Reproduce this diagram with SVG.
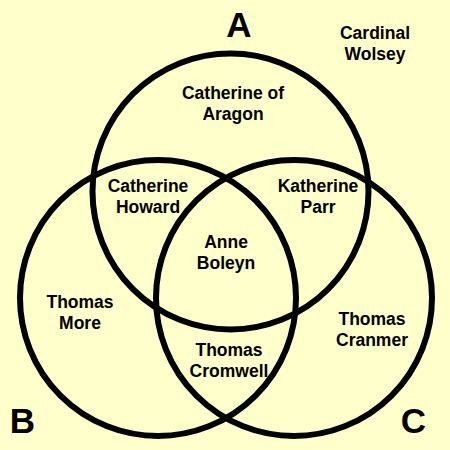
<svg xmlns="http://www.w3.org/2000/svg" width="450" height="450" viewBox="0 0 450 450">
<style>
.c{fill:none;stroke:#000;stroke-width:6}
text{font-family:"Liberation Sans",Arial,sans-serif;font-weight:bold;fill:#000;text-anchor:middle}
.t{font-size:17.5px}
.big{font-size:35px}
</style>
<rect width="450" height="450" fill="#FFFFCC"/>
<g id="circles">
<circle id="circleA" class="c" cx="230.5" cy="191.5" r="138"/>
<circle id="circleB" class="c" cx="158" cy="298" r="138"/>
<circle id="circleC" class="c" cx="294" cy="298" r="138"/>
</g>
<g id="labelA"><text class="big" x="239" y="37">A</text></g>
<g id="labelB"><text class="big" x="22.5" y="433">B</text></g>
<g id="labelC"><text class="big" x="413.5" y="433">C</text></g>
<g id="wolsey"><text class="t" x="375" y="39">Cardinal</text><text class="t" x="375" y="60">Wolsey</text></g>
<g id="aragon"><text class="t" x="233" y="99">Catherine of</text><text class="t" x="233" y="120">Aragon</text></g>
<g id="howard"><text class="t" x="148" y="192">Catherine</text><text class="t" x="148" y="213">Howard</text></g>
<g id="parr"><text class="t" x="318" y="192">Katherine</text><text class="t" x="318" y="213">Parr</text></g>
<g id="boleyn"><text class="t" x="226" y="248">Anne</text><text class="t" x="226" y="269">Boleyn</text></g>
<g id="more"><text class="t" x="80" y="308">Thomas</text><text class="t" x="80" y="329">More</text></g>
<g id="cranmer"><text class="t" x="372" y="325">Thomas</text><text class="t" x="372" y="346">Cranmer</text></g>
<g id="cromwell"><text class="t" x="229" y="356">Thomas</text><text class="t" x="229" y="377">Cromwell</text></g>
</svg>
